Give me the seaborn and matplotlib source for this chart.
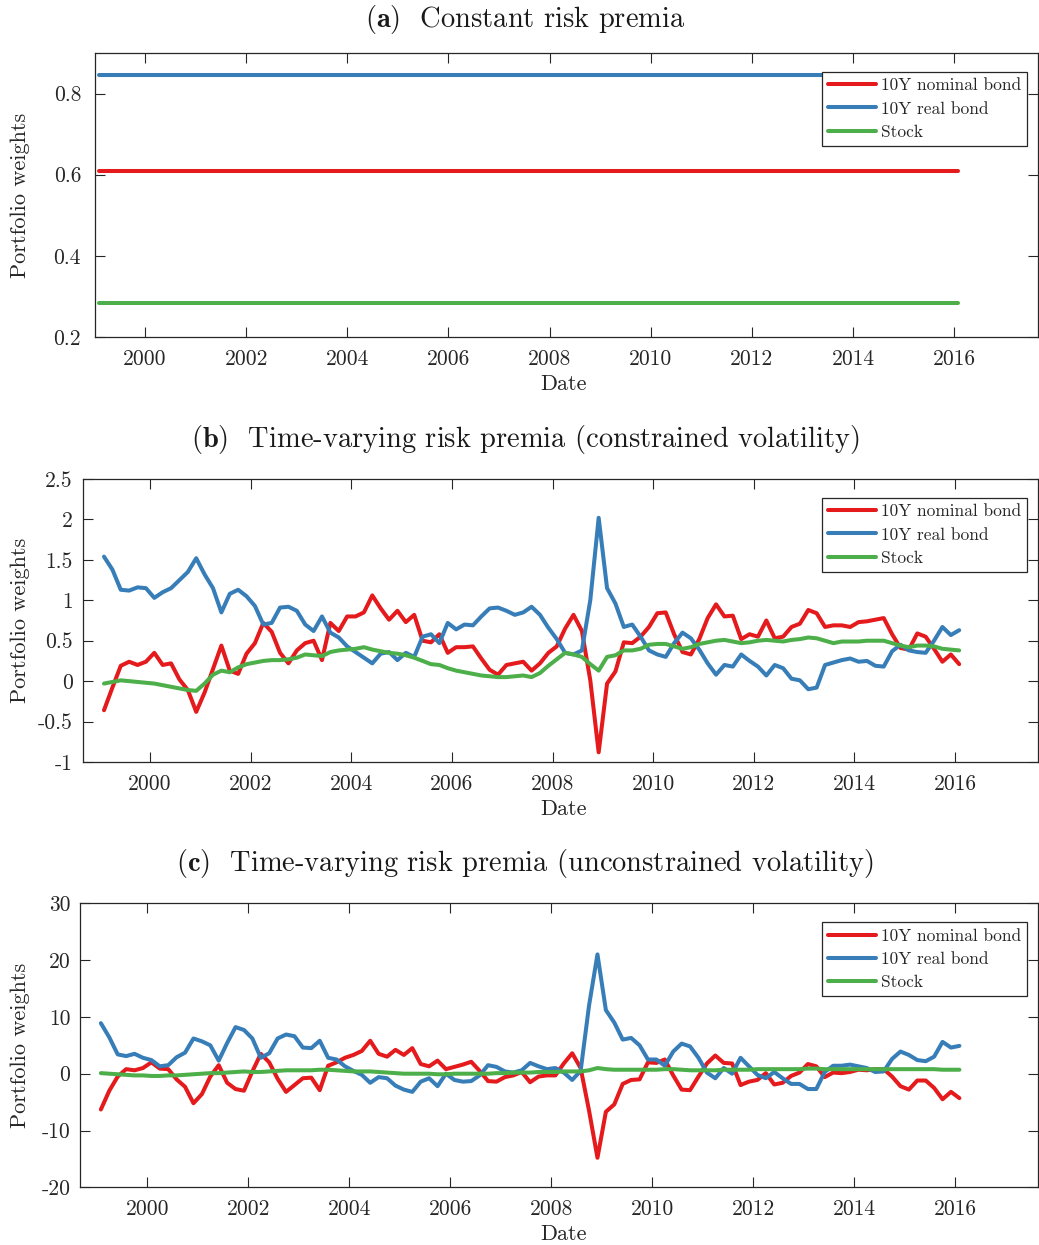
import numpy as np
import pandas as pd
import matplotlib
matplotlib.use("Agg")
import matplotlib.pyplot as plt
import seaborn as sns

# ---------------------------------------------------------------- data
assets = ["10Y nominal bond", "10Y real bond", "Stock"]
colors = ["#E41A1C", "#377EB8", "#4DAF4A"]

# bi-monthly observation dates (fractional years), Feb 1999 .. Feb 2016
dates = 1999 + 1 / 12 + np.arange(103) / 6

# (a) constant risk premia: weights do not change over time
const_span = [dates[0], dates[-1]]
const_nominal = [0.61, 0.61]
const_real = [0.847, 0.847]
const_stock = [0.285, 0.285]

# (b) time-varying risk premia, constrained volatility
b_nominal = [
    -0.36, -0.08, 0.19, 0.24, 0.20, 0.24, 0.35, 0.20, 0.22, 0.02,
    -0.11, -0.38, -0.14, 0.15, 0.44, 0.13, 0.09, 0.34, 0.47, 0.72,
    0.61, 0.35, 0.22, 0.38, 0.47, 0.50, 0.26, 0.72, 0.62, 0.80,
    0.80, 0.85, 1.06, 0.90, 0.76, 0.87, 0.73, 0.82, 0.50, 0.48,
    0.58, 0.35, 0.42, 0.42, 0.43, 0.28, 0.14, 0.08, 0.20, 0.22,
    0.24, 0.13, 0.22, 0.35, 0.43, 0.65, 0.82, 0.62, 0.01, -0.88,
    -0.03, 0.12, 0.48, 0.47, 0.55, 0.67, 0.84, 0.85, 0.58, 0.36,
    0.33, 0.52, 0.78, 0.95, 0.80, 0.81, 0.52, 0.58, 0.55, 0.75,
    0.53, 0.55, 0.67, 0.71, 0.88, 0.84, 0.67, 0.69, 0.69, 0.67,
    0.73, 0.74, 0.76, 0.78, 0.58, 0.41, 0.39, 0.59, 0.55, 0.40,
    0.24, 0.33, 0.21,
]
b_real = [
    1.54, 1.38, 1.13, 1.12, 1.16, 1.15, 1.03, 1.10, 1.15, 1.25,
    1.35, 1.52, 1.32, 1.15, 0.85, 1.08, 1.13, 1.05, 0.93, 0.70,
    0.72, 0.91, 0.92, 0.87, 0.70, 0.62, 0.80, 0.60, 0.54, 0.43,
    0.36, 0.29, 0.22, 0.34, 0.36, 0.26, 0.35, 0.30, 0.55, 0.58,
    0.47, 0.72, 0.64, 0.70, 0.69, 0.80, 0.90, 0.91, 0.87, 0.82,
    0.85, 0.92, 0.82, 0.66, 0.52, 0.35, 0.33, 0.38, 1.00, 2.02,
    1.15, 0.96, 0.67, 0.70, 0.55, 0.38, 0.33, 0.30, 0.47, 0.60,
    0.53, 0.39, 0.22, 0.08, 0.20, 0.18, 0.33, 0.25, 0.18, 0.07,
    0.20, 0.16, 0.03, 0.01, -0.10, -0.08, 0.20, 0.23, 0.26, 0.28,
    0.24, 0.25, 0.19, 0.18, 0.37, 0.45, 0.38, 0.36, 0.35, 0.50,
    0.67, 0.57, 0.63,
]
b_stock = [
    -0.03, -0.01, 0.01, 0.00, -0.01, -0.02, -0.03, -0.05, -0.07, -0.09,
    -0.11, -0.12, -0.03, 0.08, 0.13, 0.11, 0.17, 0.21, 0.23, 0.25,
    0.26, 0.26, 0.27, 0.29, 0.33, 0.32, 0.31, 0.36, 0.38, 0.39,
    0.40, 0.42, 0.39, 0.37, 0.35, 0.34, 0.32, 0.29, 0.25, 0.21,
    0.20, 0.16, 0.13, 0.11, 0.09, 0.07, 0.06, 0.05, 0.05, 0.06,
    0.07, 0.05, 0.10, 0.19, 0.27, 0.35, 0.33, 0.30, 0.21, 0.13,
    0.30, 0.32, 0.38, 0.38, 0.40, 0.45, 0.46, 0.46, 0.43, 0.40,
    0.42, 0.46, 0.48, 0.50, 0.51, 0.49, 0.47, 0.48, 0.50, 0.51,
    0.50, 0.49, 0.51, 0.52, 0.54, 0.53, 0.50, 0.47, 0.49, 0.49,
    0.49, 0.50, 0.50, 0.50, 0.47, 0.44, 0.42, 0.44, 0.44, 0.43,
    0.40, 0.39, 0.38,
]

# (c) time-varying risk premia, unconstrained volatility
c_nominal = [
    -6.3, -3.0, -0.5, 0.8, 0.6, 1.0, 2.0, 0.9, 0.8, -1.0,
    -2.3, -5.2, -3.6, -0.5, 1.5, -1.6, -2.7, -3.0, 0.4, 3.5,
    2.0, -0.9, -3.2, -2.0, -0.8, -0.7, -2.9, 1.4, 2.0, 2.8,
    3.3, 4.0, 5.8, 3.5, 3.0, 4.2, 3.3, 4.5, 1.7, 1.3,
    2.3, 0.8, 1.2, 1.6, 2.1, 0.5, -1.3, -1.4, -0.6, -0.3,
    0.3, -1.5, -0.5, -0.3, -0.3, 1.8, 3.6, 1.0, -6.5, -14.8,
    -6.7, -5.4, -1.8, -1.1, -1.0, 2.0, 1.9, 2.5, -0.3, -2.8,
    -2.9, -0.5, 1.8, 3.2, 1.9, 1.8, -2.0, -1.4, -1.1, 0.1,
    -1.9, -1.6, -0.4, 0.2, 1.7, 1.3, -0.6, 0.2, 0.1, 0.3,
    0.7, 0.6, 0.8, 0.8, -0.5, -2.2, -2.8, -1.2, -1.2, -2.5,
    -4.5, -3.2, -4.3,
]
c_real = [
    8.9, 6.4, 3.4, 3.1, 3.5, 2.8, 2.4, 1.3, 1.5, 2.9,
    3.7, 6.2, 5.7, 5.0, 2.3, 5.4, 8.2, 7.7, 6.2, 2.8,
    3.6, 6.2, 6.9, 6.6, 4.6, 4.5, 5.8, 2.8, 2.5, 1.3,
    0.5, -0.2, -1.6, -0.6, -0.8, -2.1, -2.8, -3.2, -1.4, -0.8,
    -2.2, 0.0, -1.1, -1.4, -1.3, -0.3, 1.5, 1.2, 0.4, 0.2,
    0.6, 1.9, 1.3, 0.8, 1.0, 0.2, -1.1, 0.5, 12.0, 21.0,
    11.2, 9.0, 6.0, 6.3, 5.0, 2.5, 2.5, 1.4, 3.9, 5.3,
    4.8, 2.8, 0.2, -0.8, 1.0, 0.0, 2.8, 1.3, -0.2, -0.8,
    0.3, -0.8, -1.8, -1.8, -2.7, -2.7, 0.3, 1.4, 1.4, 1.6,
    1.3, 1.0, 0.3, 0.4, 2.6, 3.9, 3.3, 2.4, 2.2, 3.0,
    5.6, 4.6, 4.9,
]
c_stock = [
    0.1, 0.0, -0.1, -0.2, -0.3, -0.3, -0.4, -0.4, -0.3, -0.3,
    -0.2, -0.1, 0.0, 0.1, 0.1, 0.2, 0.3, 0.4, 0.3, 0.3,
    0.4, 0.5, 0.6, 0.6, 0.6, 0.6, 0.7, 0.7, 0.6, 0.5,
    0.4, 0.4, 0.4, 0.3, 0.2, 0.1, 0.0, 0.0, 0.0, 0.0,
    -0.1, -0.1, 0.0, 0.0, 0.0, 0.0, 0.0, 0.1, 0.1, 0.2,
    0.2, 0.2, 0.3, 0.3, 0.3, 0.4, 0.4, 0.4, 0.6, 1.0,
    0.8, 0.7, 0.7, 0.7, 0.7, 0.7, 0.7, 0.8, 0.8, 0.7,
    0.6, 0.6, 0.6, 0.6, 0.7, 0.7, 0.7, 0.7, 0.8, 0.8,
    0.8, 0.8, 0.8, 0.8, 0.9, 0.9, 0.8, 0.8, 0.8, 0.8,
    0.8, 0.8, 0.8, 0.8, 0.8, 0.8, 0.8, 0.8, 0.8, 0.8,
    0.7, 0.7, 0.7,
]

x_ticks = [2000, 2002, 2004, 2006, 2008, 2010, 2012, 2014, 2016]
a_yticks = [0.2, 0.4, 0.6, 0.8]
a_ylabels = ["0.2", "0.4", "0.6", "0.8"]
b_yticks = [-1, -0.5, 0, 0.5, 1, 1.5, 2, 2.5]
b_ylabels = ["-1", "-0.5", "0", "0.5", "1", "1.5", "2", "2.5"]
c_yticks = [-20, -10, 0, 10, 20, 30]
c_ylabels = ["-20", "-10", "0", "10", "20", "30"]

titles = [
    r"$\mathbf{(a)}$  Constant risk premia",
    r"$\mathbf{(b)}$  Time-varying risk premia (constrained volatility)",
    r"$\mathbf{(c)}$  Time-varying risk premia (unconstrained volatility)",
]


def long_frame(t, series):
    parts = []
    for name, vals in zip(assets, series):
        parts.append(pd.DataFrame({"Date": t, "Weight": vals, "Asset": name}))
    return pd.concat(parts, ignore_index=True)


panels = [
    dict(df=long_frame(const_span, [const_nominal, const_real, const_stock]),
         rect=[95, 53, 1038, 337], xlim=(1999.01, 2017.66), ylim=(0.2, 0.9),
         yticks=a_yticks, ylabels=a_ylabels, title_y=20, ypad=10),
    dict(df=long_frame(dates, [b_nominal, b_real, b_stock]),
         rect=[82.7, 479, 1038, 762], xlim=(1998.66, 2017.65), ylim=(-1, 2.5),
         yticks=b_yticks, ylabels=b_ylabels, title_y=440, ypad=7),
    dict(df=long_frame(dates, [c_nominal, c_real, c_stock]),
         rect=[80, 903.3, 1038, 1187.3], xlim=(1998.67, 2017.64), ylim=(-20, 30),
         yticks=c_yticks, ylabels=c_ylabels, title_y=864, ypad=7),
]

# ---------------------------------------------------------------- style
sns.set_theme(style="ticks")
plt.rcParams.update({
    "font.family": "serif",
    "font.serif": ["cmr10", "DejaVu Serif"],
    "mathtext.fontset": "cm",
    "axes.unicode_minus": False,
    "axes.formatter.use_mathtext": True,
    "axes.edgecolor": "#262626",
    "axes.linewidth": 0.9,
    "xtick.color": "#262626",
    "ytick.color": "#262626",
})

W, H = 1039, 1245
fig = plt.figure(figsize=(W / 100, H / 100), dpi=100)
fig.patch.set_facecolor("white")

for p, title in zip(panels, titles):
    x0, y0, x1, y1 = p["rect"]
    ax = fig.add_axes([x0 / W, 1 - y1 / H, (x1 - x0) / W, (y1 - y0) / H])
    sns.lineplot(data=p["df"], x="Date", y="Weight", hue="Asset",
                 hue_order=assets, palette=colors, linewidth=2.9,
                 estimator=None, sort=False, legend=False, ax=ax)

    ax.set_xlim(*p["xlim"])
    ax.set_ylim(*p["ylim"])
    ax.set_xticks(x_ticks)
    ax.set_xticklabels([str(v) for v in x_ticks])
    ax.set_yticks(p["yticks"])
    ax.set_yticklabels(p["ylabels"])
    ax.tick_params(direction="in", length=7, width=0.8, top=True, right=True,
                   labelsize=15.5, colors="#262626")
    ax.tick_params(axis="x", pad=9)
    ax.tick_params(axis="y", pad=p["ypad"])
    for s in ax.spines.values():
        s.set_visible(True)
        s.set_color("#262626")

    ax.set_xlabel("Date", fontsize=16, color="#262626")
    ax.set_ylabel("Portfolio weights", fontsize=16, color="#262626")
    ax.xaxis.set_label_coords((564 - x0) / (x1 - x0), -(47) / (y1 - y0))
    ax.xaxis.label.set_va("center")
    ax.yaxis.set_label_coords((20 - x0) / (x1 - x0), 0.5)
    ax.yaxis.label.set_va("center")

    leg = ax.legend(ax.lines[:3], assets, loc="upper right",
                    bbox_to_anchor=((1027 - x0) / (x1 - x0), 1 - 19 / (y1 - y0)),
                    borderaxespad=0, fontsize=12.5, frameon=True, fancybox=False,
                    framealpha=1, edgecolor="#262626", handlelength=2.75,
                    handletextpad=0.28, labelspacing=0.45, borderpad=0.35)
    leg.get_frame().set_linewidth(0.9)

    fig.text(525 / W, 1 - p["title_y"] / H, title, ha="center", va="center",
             fontsize=20.5, color="#1a1a1a")

fig.savefig("out.png", dpi=100, facecolor="white")
